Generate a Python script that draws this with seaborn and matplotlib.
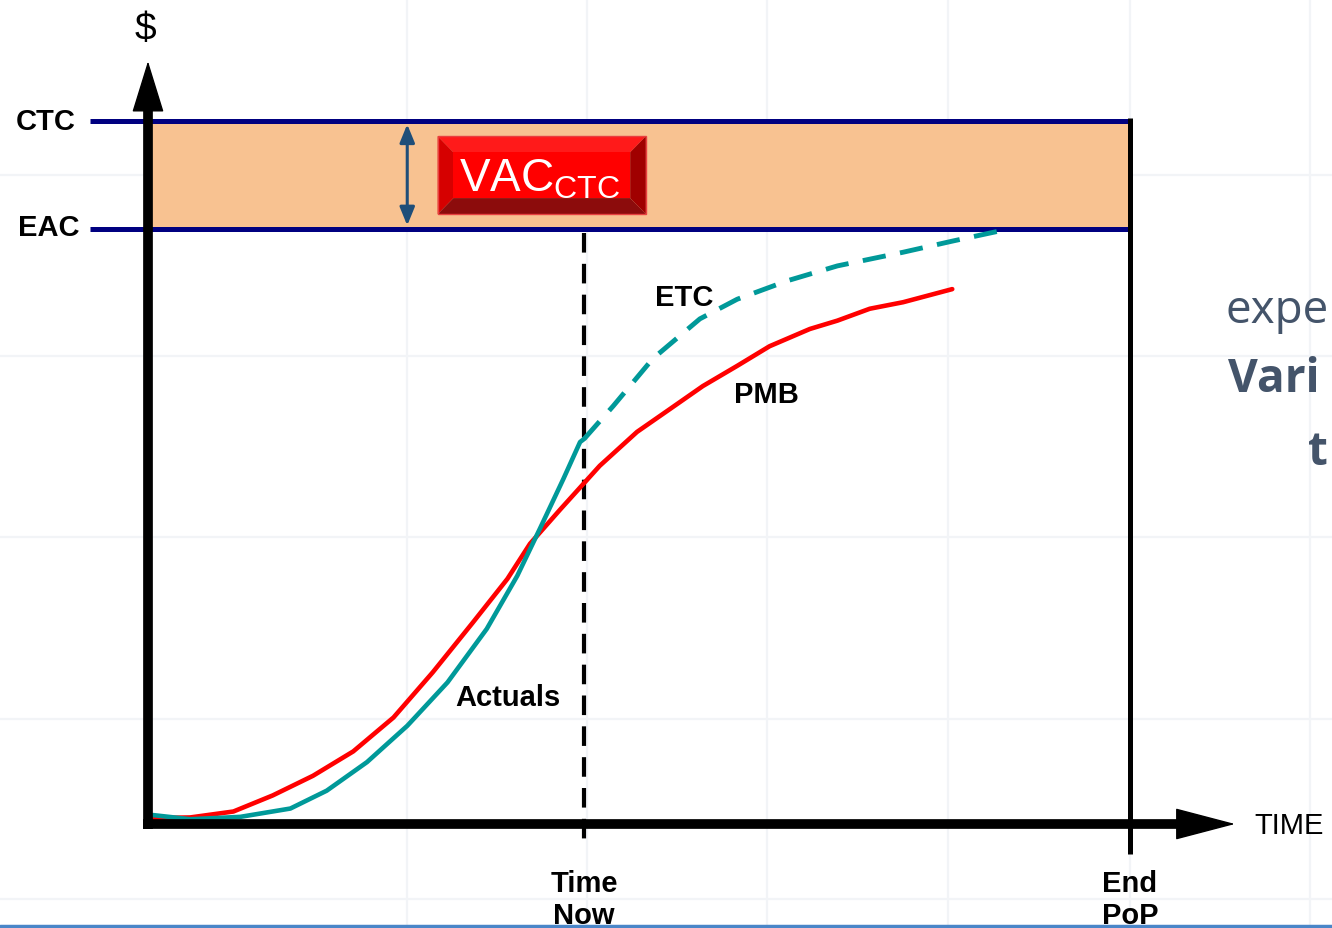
import numpy as np
import matplotlib
matplotlib.use("Agg")
import matplotlib.pyplot as plt
import seaborn as sns
from matplotlib.patches import Polygon, Rectangle

# Dados (tempo: 0 = início, 100 = fim do PoP; custo: EAC = 100)
pmb_t = [0.2, 4.3, 8.7, 12.7, 16.8, 20.9, 25.0, 29.0, 33.1, 36.6, 38.9, 42.0, 46.0, 49.8,
         53.2, 56.5, 60.0, 63.3, 67.4, 70.2, 73.5, 76.9, 81.9]
pmb_v = [1.0, 1.1, 2.1, 4.8, 8.1, 12.2, 17.9, 25.5, 33.9, 41.2, 47.1, 52.9, 60.2, 65.9,
         69.8, 73.6, 77.0, 80.3, 83.2, 84.6, 86.6, 87.7, 89.9]

actual_t = [0.5, 4.3, 9.4, 14.5, 18.2, 22.3, 26.4, 30.5, 34.5, 37.6, 39.9, 42.3, 44.0, 44.4]
actual_v = [1.5, 0.8, 1.2, 2.6, 5.6, 10.4, 16.5, 23.8, 32.8, 41.7, 49.6, 58.0, 64.2, 64.7]

etc_t = [44.4, 47.4, 51.4, 56.2, 60.0, 65.1, 70.2, 76.9, 82.0, 86.8]
etc_v = [64.7, 70.3, 78.2, 84.9, 88.2, 91.3, 93.8, 96.1, 98.0, 99.7]

eac = 100.0
ctc = 118.2
time_now = 44.4
end_pop = 100.0

sns.set_theme(style="white")
plt.rcParams["font.family"] = ["Liberation Sans", "DejaVu Sans"]
plt.rcParams["text.color"] = "black"

fig = plt.figure(figsize=(13.32, 9.29), dpi=100)
ax = fig.add_axes([0, 0, 1, 1])
ax.set_xlim(-15.07, 120.57)
ax.set_ylim(-17.48, 138.66)
ax.axis("off")

# fundo de slide com grade clara
for gx in [26.4, 44.7, 63.0, 81.5, 100.0, 118.3]:
    ax.axvline(gx, color="#F2F4F7", lw=1.6, zorder=0)
for gy in [109.0, 78.7, 48.2, 17.6, -12.6]:
    ax.axhline(gy, color="#F2F4F7", lw=1.6, zorder=0)

# faixa entre EAC e CTC
ax.add_patch(Rectangle((0, eac), end_pop, ctc - eac, facecolor="#F8C291", edgecolor="none", zorder=1))
ax.plot([-5.9, end_pop], [ctc, ctc], color="#000080", lw=3.6, zorder=3, solid_capstyle="butt")
ax.plot([-5.9, end_pop], [eac, eac], color="#000080", lw=3.6, zorder=3, solid_capstyle="butt")
ax.text(-10.4, ctc, "CTC", fontsize=21, fontweight="bold", ha="center", va="center")
ax.text(-10.1, eac + 0.3, "EAC", fontsize=21, fontweight="bold", ha="center", va="center")

# linha de fim do PoP e Time Now
ax.plot([end_pop, end_pop], [ctc + 0.4, -5.0], color="black", lw=3.6, zorder=4, solid_capstyle="butt")
tn, = ax.plot([time_now, time_now], [99.3, -4.2], color="black", lw=3, zorder=4)
tn.set_dashes([4.7, 2.7])

# eixos com setas
ax.plot([0, 0], [-0.8, 122], color="black", lw=7, zorder=6, solid_capstyle="butt")
ax.annotate("", xy=(0, 128.2), xytext=(0, 118),
            arrowprops=dict(arrowstyle="-|>,head_length=3.4,head_width=1.05", mutation_scale=10,
                            lw=1, color="black", shrinkA=0, shrinkB=0), zorder=6)
ax.plot([-0.5, 106], [0, 0], color="black", lw=7, zorder=6, solid_capstyle="butt")
ax.annotate("", xy=(110.7, 0), xytext=(104, 0),
            arrowprops=dict(arrowstyle="-|>,head_length=4.0,head_width=1.05", mutation_scale=10,
                            lw=1, color="black", shrinkA=0, shrinkB=0), zorder=6)
ax.text(-0.3, 133.6, "$", fontsize=28, ha="center", va="center")
ax.text(112.7, -0.1, "TIME", fontsize=21, ha="left", va="center")
ax.text(time_now, -12.6, "Time\nNow", fontsize=21, fontweight="bold", ha="center", va="center", linespacing=1.2)
ax.text(end_pop, -12.6, "End\nPoP", fontsize=21, fontweight="bold", ha="center", va="center", linespacing=1.2)

# curvas
sns.lineplot(x=pmb_t, y=pmb_v, ax=ax, color="#FF0000", lw=3.3, estimator=None, sort=False, zorder=5,
             solid_joinstyle="round")
sns.lineplot(x=actual_t, y=actual_v, ax=ax, color="#009999", lw=3.3, estimator=None, sort=False, zorder=5,
             solid_joinstyle="round")
sns.lineplot(x=etc_t, y=etc_v, ax=ax, color="#009999", lw=3.5, estimator=None, sort=False, zorder=5)
ax.lines[-1].set_dashes([4.8, 3])

ax.text(54.6, 88.6, "ETC", fontsize=21, fontweight="bold", ha="center", va="center")
ax.text(63.0, 72.3, "PMB", fontsize=21, fontweight="bold", ha="center", va="center")
ax.text(36.7, 21.3, "Actuals", fontsize=21, fontweight="bold", ha="center", va="center")

# seta dupla do VAC
ax.annotate("", xy=(26.4, 117.6), xytext=(26.4, 100.6),
            arrowprops=dict(arrowstyle="<|-|>,head_length=1.1,head_width=0.45", mutation_scale=10,
                            lw=2.2, color="#1F4E79", shrinkA=0, shrinkB=0), zorder=4)

# caixa VAC com chanfro
L, R, B, T = 29.5, 50.7, 102.5, 115.6
iL, iR, iB, iT = 31.1, 49.1, 105.2, 112.9
bevels = [
    ([(L, T), (R, T), (iR, iT), (iL, iT)], "#FF1A1A"),
    ([(L, T), (iL, iT), (iL, iB), (L, B)], "#D60000"),
    ([(R, T), (R, B), (iR, iB), (iR, iT)], "#A00000"),
    ([(L, B), (iL, iB), (iR, iB), (R, B)], "#8C0C0C"),
]
for pts, col in bevels:
    ax.add_patch(Polygon(pts, closed=True, facecolor=col, edgecolor="none", zorder=7))
ax.add_patch(Rectangle((iL, iB), iR - iL, iT - iB, facecolor="#FF0000", edgecolor="none", zorder=7))
ax.add_patch(Rectangle((L, B), R - L, T - B, facecolor="none", edgecolor="#E84040", lw=1, zorder=8))
ax.text(31.7, 106.4, r"VAC$_{\mathregular{CTC}}$", fontsize=33, color="white", ha="left", va="baseline", zorder=9)

# texto do slide (parte visível à direita)
ax.text(109.7, 86.4, "expe", fontsize=33, color="#44546A", family=["Open Sans", "DejaVu Sans"],
        ha="left", va="center")
ax.text(110.0, 74.8, "Vari", fontsize=33, color="#44546A", fontweight="bold",
        family=["Open Sans", "DejaVu Sans"], ha="left", va="center")
ax.text(118.1, 62.6, "t", fontsize=33, color="#44546A", fontweight="bold",
        family=["Open Sans", "DejaVu Sans"], ha="left", va="center")

# linha azul do rodapé
ax.axhline(-17.2, color="#4A86C8", lw=2.5, zorder=10)

fig.savefig("out.png", dpi=100)
